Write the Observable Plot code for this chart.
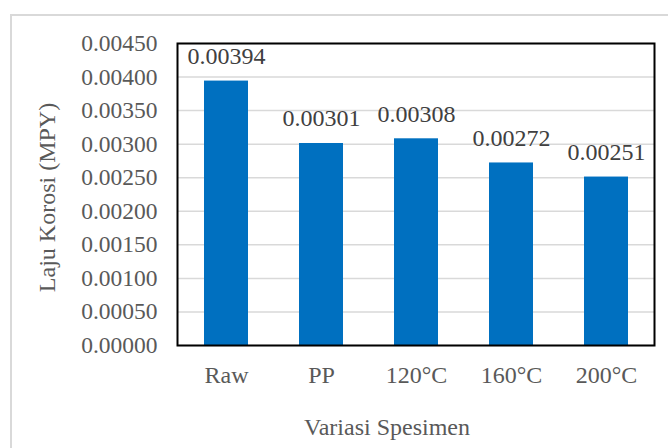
<!DOCTYPE html>
<html>
<head>
<meta charset="utf-8">
<script src="https://cdn.jsdelivr.net/npm/d3@7"></script>
<script src="https://cdn.jsdelivr.net/npm/@observablehq/plot@0.6"></script>
<style>
  html, body { margin: 0; padding: 0; background: #fff; overflow: hidden; }
  #wrap { position: relative; width: 668px; height: 448px; overflow: hidden; }
  #border { position: absolute; left: 10px; top: 14px; width: 700px; height: 500px;
            border: 2px solid #d9d9d9; box-sizing: border-box; pointer-events: none; }
  svg { display: block; }
  svg text { font-family: 'Liberation Serif', 'Times New Roman', serif !important; }
</style>
</head>
<body>
<div id="wrap"><div id="border"></div></div>
<script>
const categories = ["Raw", "PP", "120°C", "160°C", "200°C"];
const values = [0.00394, 0.00301, 0.00308, 0.00272, 0.00251];
const yTicks = [0, 0.0005, 0.001, 0.0015, 0.002, 0.0025, 0.003, 0.0035, 0.004, 0.0045];
const xTitle = "Variasi Spesimen";
const yTitle = "Laju Korosi (MPY)";

const data = categories.map((c, i) => ({cat: c, val: values[i]}));
const font = "'Liberation Serif', 'Times New Roman', serif";
const textColor = "#595959";

const chart = Plot.plot({
  width: 668,
  height: 448,
  marginLeft: 177,
  marginRight: 14,
  marginTop: 43,
  marginBottom: 103,
  style: {fontFamily: font, fontSize: "24px", color: textColor, background: "transparent"},
  x: {domain: categories, paddingInner: 0.54, paddingOuter: 0.27, label: null},
  y: {domain: [0, 0.0045], label: null},
  marks: [
    Plot.gridY(yTicks, {stroke: "#d9d9d9", strokeOpacity: 1, strokeWidth: 1.5}),
    Plot.barY(data, {x: "cat", y: "val", fill: "#0070C0"}),
    Plot.frame({stroke: "#000", strokeWidth: 2}),
    Plot.axisY({ticks: yTicks, tickFormat: d => d.toFixed(5), tickSize: 0, tickPadding: 20, label: null, fill: textColor, fontSize: 23.5}),
    Plot.axisX({tickSize: 0, tickPadding: 20, label: null, fill: textColor, fontSize: 24}),
    Plot.text(data, {x: "cat", y: "val", text: d => d.val.toFixed(5), dy: -17, lineAnchor: "bottom", fill: "#404040", fontSize: 24, fontFamily: font}),
    Plot.text([xTitle], {text: d => d, frameAnchor: "bottom", textAnchor: "middle", dx: -29, dy: 89, lineAnchor: "bottom", fill: textColor, fontSize: 24, fontFamily: font}),
    Plot.text([yTitle], {text: d => d, frameAnchor: "left", textAnchor: "middle", lineAnchor: "middle", dx: -130, dy: 3, rotate: -90, fill: textColor, fontSize: 24, fontFamily: font})
  ]
});
document.getElementById("wrap").prepend(chart);
</script>
</body>
</html>
